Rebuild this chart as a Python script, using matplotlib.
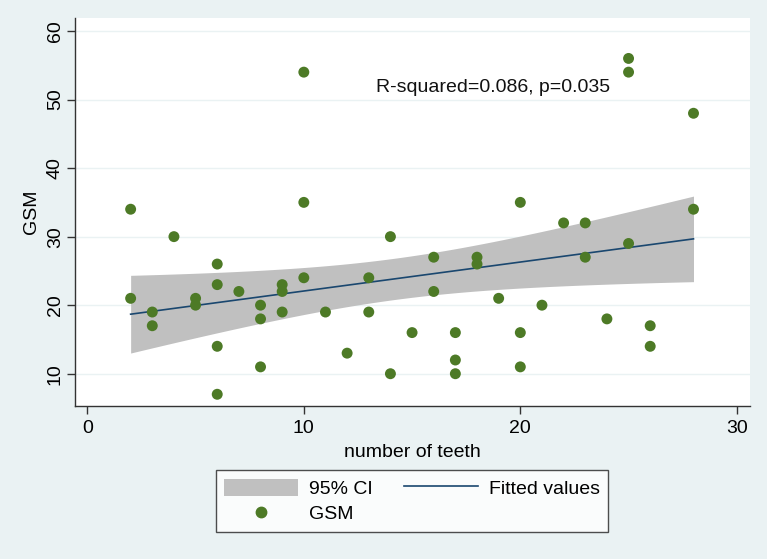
import numpy as np
import matplotlib
matplotlib.use("Agg")
import matplotlib.pyplot as plt
from matplotlib.patches import Patch
from matplotlib.lines import Line2D

# Data
teeth = [2, 2, 3, 3, 4, 5, 5, 6, 6, 6, 6, 7, 8, 8, 8, 9, 9, 9, 10, 10, 10,
         11, 12, 13, 13, 14, 14, 15, 16, 16, 17, 17, 17, 18, 18, 19, 20, 20, 20,
         21, 22, 23, 23, 24, 25, 25, 25, 26, 26, 28, 28]
gsm = [34, 21, 19, 17, 30, 21, 20, 26, 23, 14, 7, 22, 20, 18, 11, 23, 22, 19, 54, 35, 24,
       19, 13, 24, 19, 30, 10, 16, 27, 22, 16, 12, 10, 27, 26, 21, 35, 16, 11,
       20, 32, 32, 27, 18, 56, 54, 29, 17, 14, 48, 34]
x_ticks = [0, 10, 20, 30]
y_ticks = [10, 20, 30, 40, 50, 60]
annotation = "R-squared=0.086, p=0.035"

plt.rcParams['font.family'] = ['Liberation Sans', 'DejaVu Sans']
FS = 14

BG = '#eaf2f3'
GREEN = '#4d7a26'
NAVY = '#1a476f'
CIGRAY = '#c0c0c0'

x = np.array(teeth, dtype=float)
y = np.array(gsm, dtype=float)
n = len(x)
b, a = np.polyfit(x, y, 1)
xs = np.linspace(x.min(), x.max(), 200)
fit = a + b * xs
resid = y - (a + b * x)
s = np.sqrt(np.sum(resid ** 2) / (n - 2))
sxx = np.sum((x - x.mean()) ** 2)
tcrit = 2.0096  # t(0.975, df=49)
se = s * np.sqrt(1.0 / n + (xs - x.mean()) ** 2 / sxx)
lo, hi = fit - tcrit * se, fit + tcrit * se

fig = plt.figure(figsize=(7.67, 5.59), dpi=100, facecolor=BG)
ax = fig.add_axes([75 / 767, 1 - 406 / 559, (750 - 75) / 767, (406 - 18) / 559])
ax.set_facecolor('white')

ax.set_xlim(-0.57, 30.61)
ax.set_ylim(5.29, 61.9)

for yt in y_ticks:
    ax.axhline(yt, color=BG, lw=1.0, zorder=0)

ax.fill_between(xs, lo, hi, color=CIGRAY, lw=0, zorder=1)
ax.plot(xs, fit, color=NAVY, lw=1.2, zorder=2)
ax.scatter(x, y, s=62, color=GREEN, edgecolors='none', zorder=3)

ax.text(13.34, 51.7, annotation, fontsize=FS, ha='left', va='center', color='#111111')

for sp in ['top', 'right']:
    ax.spines[sp].set_visible(False)
for sp in ['left', 'bottom']:
    ax.spines[sp].set_color('#333333')
    ax.spines[sp].set_linewidth(1.0)

ax.set_xticks(x_ticks)
ax.set_yticks(y_ticks)
ax.set_xticklabels([str(t) for t in x_ticks], fontsize=FS)
ax.set_yticklabels([str(t) for t in y_ticks], fontsize=FS, rotation=90, va='center')
ax.tick_params(axis='both', length=6, width=1.0, color='#333333')
ax.tick_params(axis='y', pad=2)
ax.tick_params(axis='x', pad=4)

ax.set_xlabel('number of teeth', fontsize=FS, labelpad=5)
ax.set_ylabel('GSM', fontsize=FS, labelpad=5)

handles = [Patch(facecolor=CIGRAY, edgecolor='none'),
           Line2D([], [], ls='none', marker='o', color=GREEN, markersize=7.5),
           Line2D([], [], color=NAVY, lw=1.2)]
labels = ['95% CI', 'GSM', 'Fitted values']
leg = fig.legend(handles, labels, ncol=2, loc='center', bbox_to_anchor=(412 / 767, 1 - 501 / 559),
                 fontsize=FS, frameon=True, fancybox=False, handlelength=3.8, handleheight=1.0,
                 handletextpad=0.55, columnspacing=1.6, labelspacing=0.3, borderpad=0.45,
                 borderaxespad=0)
leg.get_frame().set_edgecolor('#222222')
leg.get_frame().set_linewidth(1.0)
leg.get_frame().set_facecolor('white')

fig.savefig('out.png', dpi=100, facecolor=BG)
